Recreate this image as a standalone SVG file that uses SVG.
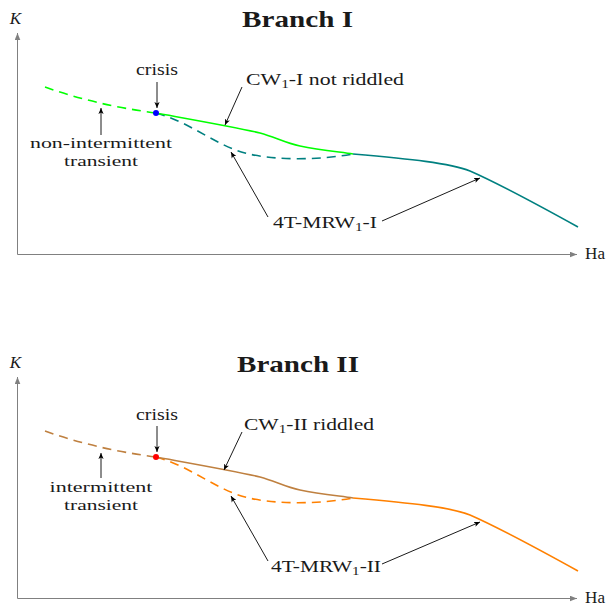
<svg xmlns="http://www.w3.org/2000/svg" width="611" height="608" viewBox="0 0 611 608">
  <style>
    text { font-family: "Liberation Serif", "Times New Roman", serif; font-size: 17px; fill: #1a1a1a; }
    .title { font-size: 22.5px; font-weight: bold; }
    .ital { font-style: italic; }
    .sub { font-size: 12px; }
    .two { font-size: 15px; }
    .axis { stroke: #808080; stroke-width: 1; fill: none; }
    .note { stroke: #000; stroke-width: 0.9; fill: none; marker-end: url(#head); }
    .curve { fill: none; stroke-width: 1.6; }
    .dash { stroke-dasharray: 9 6; }
  </style>
  <defs>
    <marker id="head" viewBox="-6 -3 7 6" markerWidth="7" markerHeight="6" refX="0" refY="0" orient="auto" markerUnits="userSpaceOnUse">
      <path d="M-6,-2.6 L0,0 L-6,2.6 L-4.5,0 z" fill="#000"/>
    </marker>
    <marker id="axhead" viewBox="-7 -3 8 6" markerWidth="8" markerHeight="6" refX="0" refY="0" orient="auto" markerUnits="userSpaceOnUse">
      <path d="M-7,-2.8 L0,0 L-7,2.8 z" fill="#808080"/>
    </marker>
    <!-- shared curve shapes -->
    <path id="pre" d="M45,87 Q95,105 156,113"/>
    <path id="cw" d="M156,113 C200,121 240,128 260,133 C275,137 285,143 300,146 C320,150 340,152 353,154"/>
    <path id="mrwDip" d="M156,113 C190,122 215,145 245,153 C275,161 320,160 353,154"/>
    <path id="mrw" d="M353,154 C410,159 450,163 470,171 C500,184 540,206 578,227"/>
  </defs>

  <!-- Branch I -->
  <g id="branch-1">
    <g id="axes-1">
      <path class="axis" d="M17.5,254.5 V33" marker-end="url(#axhead)"/>
      <path class="axis" d="M17.5,254.5 H577" marker-end="url(#axhead)"/>
      <text class="ital" x="15.5" y="24" text-anchor="middle">K</text>
      <text x="585" y="259" textLength="20" lengthAdjust="spacingAndGlyphs">Ha</text>
    </g>
    <text id="title-1" class="title" x="242" y="27" textLength="111" lengthAdjust="spacingAndGlyphs">Branch I</text>
    <g id="curves-1">
      <use href="#pre" class="curve dash" stroke="#00ff00"/>
      <use href="#mrwDip" class="curve dash" stroke="#008080"/>
      <use href="#cw" class="curve" stroke="#00ff00"/>
      <use href="#mrw" class="curve" stroke="#008080"/>
    </g>
    <circle id="crisis-point-1" cx="156" cy="113" r="3" fill="#0000ff"/>
    <g id="connectors-1">
      <path class="note" d="M157,82 V108"/>
      <path class="note" d="M101,135 V108"/>
      <path class="note" d="M242,87 L225,125"/>
      <path class="note" d="M268,217 L231,152"/>
      <path class="note" d="M382,221 L480,178"/>
    </g>
    <g id="labels-1">
      <text x="157" y="75" text-anchor="middle" textLength="42" lengthAdjust="spacingAndGlyphs">crisis</text>
      <text x="246" y="85" textLength="158" lengthAdjust="spacingAndGlyphs">CW<tspan class="sub" dy="3">1</tspan><tspan dy="-3">-I not riddled</tspan></text>
      <text class="two" x="101" y="148" text-anchor="middle" textLength="142" lengthAdjust="spacingAndGlyphs">non-intermittent</text>
      <text class="two" x="101" y="166" text-anchor="middle" textLength="74" lengthAdjust="spacingAndGlyphs">transient</text>
      <text x="273" y="228" textLength="104" lengthAdjust="spacingAndGlyphs">4T-MRW<tspan class="sub" dy="3">1</tspan><tspan dy="-3">-I</tspan></text>
    </g>
  </g>

  <!-- Branch II -->
  <g id="branch-2">
    <g id="axes-2">
      <path class="axis" d="M17.5,598.5 V377" marker-end="url(#axhead)"/>
      <path class="axis" d="M17.5,598.5 H577" marker-end="url(#axhead)"/>
      <text class="ital" x="15.5" y="368" text-anchor="middle">K</text>
      <text x="585" y="603" textLength="20" lengthAdjust="spacingAndGlyphs">Ha</text>
    </g>
    <text id="title-2" class="title" x="237" y="372" textLength="122" lengthAdjust="spacingAndGlyphs">Branch II</text>
    <g id="curves-2" transform="translate(0,344)">
      <use href="#pre" class="curve dash" stroke="#bf8040"/>
      <use href="#mrwDip" class="curve dash" stroke="#ff8000"/>
      <use href="#cw" class="curve" stroke="#bf8040"/>
      <use href="#mrw" class="curve" stroke="#ff8000"/>
    </g>
    <circle id="crisis-point-2" cx="156" cy="457" r="3" fill="#ff0000"/>
    <g id="connectors-2">
      <path class="note" d="M157,426 V452"/>
      <path class="note" d="M101,478 V453"/>
      <path class="note" d="M242,432 L224,470"/>
      <path class="note" d="M268,561 L231,496"/>
      <path class="note" d="M382,564 L480,522"/>
    </g>
    <g id="labels-2">
      <text x="157" y="420" text-anchor="middle" textLength="42" lengthAdjust="spacingAndGlyphs">crisis</text>
      <text x="244" y="430" textLength="130" lengthAdjust="spacingAndGlyphs">CW<tspan class="sub" dy="3">1</tspan><tspan dy="-3">-II riddled</tspan></text>
      <text class="two" x="101" y="492" text-anchor="middle" textLength="103" lengthAdjust="spacingAndGlyphs">intermittent</text>
      <text class="two" x="101" y="510" text-anchor="middle" textLength="74" lengthAdjust="spacingAndGlyphs">transient</text>
      <text x="271" y="572" textLength="110" lengthAdjust="spacingAndGlyphs">4T-MRW<tspan class="sub" dy="3">1</tspan><tspan dy="-3">-II</tspan></text>
    </g>
  </g>
</svg>
